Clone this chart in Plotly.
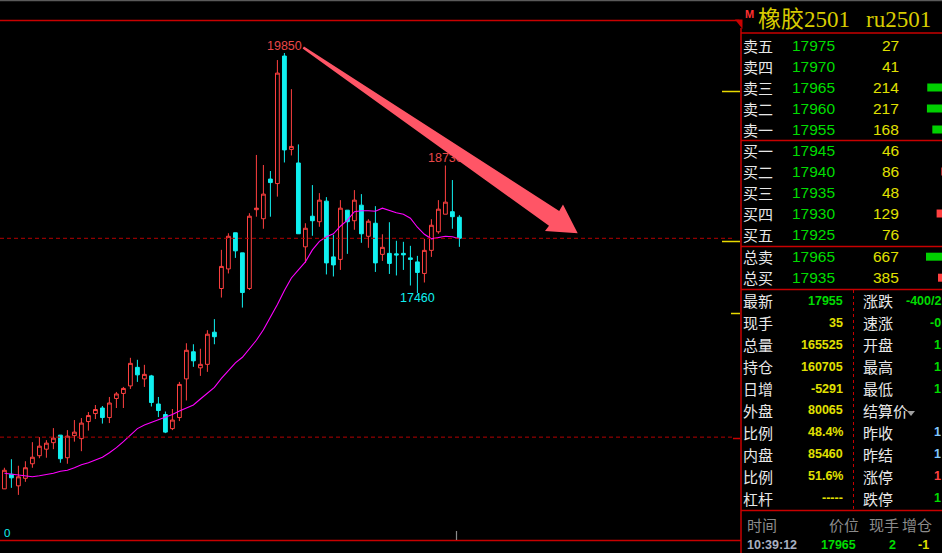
import plotly.graph_objects as go

W, H = 942, 553

# ---------------- data ----------------
opens = [15510, 15655, 15540, 15615, 15760, 15840, 15905, 15970, 16045, 15820,
         16040, 16010, 16180, 16260, 16315, 16220, 16410, 16460, 16535, 16720,
         16605, 16635, 16355, 16250, 16110, 16220, 16605, 16875, 16715, 16750,
         17070, 17505, 17700, 18060, 17860, 17505, 18290, 18200, 18595, 18550,
         19820, 18890, 18755, 17920, 18225, 18170, 18375, 17820, 17795, 18285,
         18180, 18335, 18025, 18155, 17845, 17855, 17850, 17855, 17810, 17770,
         17655, 17885, 18070, 18245, 18270, 18215]
highs = [15720, 15805, 15740, 15785, 15975, 16025, 15995, 16115, 16045, 16095,
         16195, 16215, 16275, 16345, 16335, 16425, 16475, 16525, 16815, 16795,
         16745, 16645, 16425, 16280, 16305, 16575, 16960, 16950, 16905, 17090,
         17200, 17890, 18055, 18060, 17860, 18255, 18835, 18735, 18675, 19780,
         19850, 19490, 18940, 18155, 18535, 18455, 18415, 18040, 18385, 18285,
         18485, 18445, 18195, 18325, 18045, 18165, 17980, 17970, 17930, 17830,
         18000, 18195, 18385, 18730, 18585, 18235]
lows = [15510, 15520, 15450, 15580, 15720, 15815, 15820, 15905, 15770, 15760,
        15980, 15885, 16090, 16205, 16160, 16165, 16315, 16315, 16505, 16575,
        16525, 16330, 16225, 16065, 16095, 16185, 16390, 16725, 16635, 16675,
        16950, 17415, 17655, 17810, 17315, 17490, 18220, 18100, 18220, 18420,
        18760, 18830, 18050, 17760, 18030, 18120, 17645, 17625, 17690, 17850,
        18090, 17960, 17910, 17670, 17780, 17650, 17635, 17690, 17535, 17460,
        17565, 17820, 18050, 18245, 18100, 17920]
closes = [15695, 15620, 15630, 15720, 15825, 15935, 15965, 16015, 15810, 16035,
          16075, 16165, 16240, 16300, 16220, 16365, 16455, 16510, 16760, 16645,
          16650, 16370, 16290, 16075, 16195, 16550, 16890, 16785, 16750, 17050,
          17025, 17725, 18025, 17880, 17465, 18225, 18305, 18445, 18560, 19650,
          18885, 18920, 18050, 18105, 18180, 18385, 17760, 17740, 18305, 18170,
          18385, 18050, 18175, 17760, 17915, 17755, 17840, 17840, 17795, 17665,
          17885, 18135, 18295, 18365, 18220, 18005]
ma_line = [15665, 15655, 15645, 15635, 15630, 15640, 15650, 15665, 15685, 15695,
           15720, 15750, 15770, 15795, 15825, 15870, 15920, 15980, 16050, 16110,
           16145, 16170, 16195, 16225, 16250, 16285, 16315, 16345, 16405, 16465,
           16520, 16610, 16690, 16765, 16820, 16900, 16990, 17095, 17215, 17345,
           17485, 17610, 17690, 17770, 17890, 17975, 18020, 18050, 18125, 18185,
           18270, 18280, 18280, 18275, 18305, 18280, 18260, 18245, 18205, 18115,
           18045, 18000, 18010, 18025, 18020, 18000]
level_prices = [18005, 16025]
peak_index, peak2_index, trough_index = 40, 63, 59

title_name = "橡胶2501"
title_code = "ru2501"

ask_names = ["卖五", "卖四", "卖三", "卖二", "卖一"]
ask_prices = [17975, 17970, 17965, 17960, 17955]
ask_vols = [27, 41, 214, 217, 168]
bid_names = ["买一", "买二", "买三", "买四", "买五"]
bid_prices = [17945, 17940, 17935, 17930, 17925]
bid_vols = [46, 86, 48, 129, 76]
total_names = ["总卖", "总买"]
total_prices = [17965, 17935]
total_vols = [667, 385]

stat_names_l = ["最新", "现手", "总量", "持仓", "日增", "外盘", "比例", "内盘", "比例", "杠杆"]
stat_vals_l = ["17955", "35", "165525", "160705", "-5291", "80065", "48.4%", "85460", "51.6%", "-----"]
stat_names_r = ["涨跌", "速涨", "开盘", "最高", "最低", "结算价", "昨收", "昨结", "涨停", "跌停"]
stat_vals_r = ["-400/2", "-0", "1", "1", "1", "", "1", "1", "1", "1"]

tick_head = ["时间", "价位", "现手", "增仓"]
tick_vals = ["10:39:12", "17965", "2", "-1"]

# ---------------- styles ----------------
RED = "#FF4040"
CYAN = "#10F0F0"
MAGENTA = "#FF00FF"
FRAME = "#C80000"
GREEN = "#00DC00"
YELLOW = "#E0E000"
WHITE = "#E8E8E8"
GRAY = "#8C8C8C"
CJK = "Noto Sans CJK SC"
NUM = "Liberation Sans"

Y_TOP = 20378.0
PT_PER_PX = 9.958


def X(p):
    return p / W


def Y(p):
    return 1 - p / H


idx = list(range(len(opens)))

fig = go.Figure()
fig.add_trace(go.Candlestick(
    x=idx, open=opens, high=highs, low=lows, close=closes,
    increasing=dict(line=dict(color=RED, width=1), fillcolor="#000000"),
    decreasing=dict(line=dict(color=CYAN, width=1), fillcolor=CYAN),
    whiskerwidth=0, hoverinfo="skip"))
fig.add_trace(go.Scatter(x=idx, y=ma_line, mode="lines",
                         line=dict(color=MAGENTA, width=1.1), hoverinfo="skip"))

lab_font = dict(family=NUM, size=12.5)
fig.add_trace(go.Scatter(x=[peak_index, peak2_index], y=[highs[peak_index], highs[peak2_index]],
                         mode="text", text=[str(highs[peak_index]), str(highs[peak2_index])],
                         textposition="top center", textfont=dict(color="#E84848", **lab_font),
                         hoverinfo="skip"))
fig.add_trace(go.Scatter(x=[trough_index], y=[lows[trough_index]], mode="text",
                         text=[str(lows[trough_index])], textposition="bottom center",
                         textfont=dict(color=CYAN, **lab_font), hoverinfo="skip"))

shapes = []


def hline(y, x0, x1, color, width=1.0, dash=None):
    shapes.append(dict(type="line", xref="paper", yref="paper", x0=X(x0), x1=X(x1),
                       y0=Y(y), y1=Y(y), line=dict(color=color, width=width, dash=dash)))


def vline(x, y0, y1, color, width=1.0, dash=None):
    shapes.append(dict(type="line", xref="paper", yref="paper", x0=X(x), x1=X(x),
                       y0=Y(y0), y1=Y(y1), line=dict(color=color, width=width, dash=dash)))


def poly(pts, color, layer="above"):
    d = "M " + " L ".join("%.5f,%.5f" % (X(a), Y(b)) for a, b in pts) + " Z"
    shapes.append(dict(type="path", xref="paper", yref="paper", path=d,
                       fillcolor=color, line=dict(width=0), layer=layer))


# frame
hline(0.5, 0, 942, "#5A5A5A", 1.5)
hline(20.5, 0, 739, FRAME, 1.5)
hline(540.5, 0, 741, FRAME, 1.5)
for lv in level_prices:
    shapes.append(dict(type="line", xref="paper", yref="y", x0=0, x1=X(735),
                       y0=lv, y1=lv, line=dict(color="#B40000", width=1, dash="4px,3px")))
vline(456.5, 531, 540, "#8A8A8A", 1.2)
vline(741, 28, 553, FRAME, 1.5)
poly([(735, 19.5), (742.5, 19.5), (742.5, 29)], FRAME)
# axis ticks at panel edge
hline(91.5, 722, 740, "#E8D800", 1.5)
hline(241.5, 722, 740, "#E8D800", 1.5)
hline(313.5, 731, 740, "#E8D800", 1.5)
hline(438.5, 733, 740, FRAME, 1.5)
# panel separators
for yy in (33, 140.5, 246.5, 289.5, 510.5):
    hline(yy, 741, 942, FRAME, 1.5)
vline(853.5, 290, 510, FRAME, 1, "3px,3px")

# arrow (tapered shaft + head)
poly([(304.0, 46.5), (559.2, 211.0), (563, 204.5), (577.7, 233.3),
      (545, 230.9), (549.0, 225.8), (302.6, 48.4)], "#FF5566")

# depth bars
def bar(x0, yc, col):
    if x0 < 942:
        poly([(x0, yc - 4), (942, yc - 4), (942, yc + 4), (x0, yc + 4)], col)


for i, v in enumerate(ask_vols):
    bar(950.8 - 0.11 * v, 45.5 + 21 * i, "#00D000")
for i, v in enumerate(bid_vols):
    bar(950.8 - 0.11 * v, 150.5 + 21 * i, "#FF4040")
for i, v in enumerate(total_vols):
    bar(954.4 - 0.0426 * v, 256.7 + 21 * i, "#00D000" if i == 0 else "#FF4040")

# settle triangle
poly([(907, 411), (915, 411), (911, 416)], "#A0A0A0")

ann = []


def txt(x, y, s, color, size, family, anchor="left", bold=False):
    ann.append(dict(xref="paper", yref="paper", x=X(x), y=Y(y),
                    text=("<b>%s</b>" % s) if bold else s, showarrow=False,
                    xanchor=anchor, yanchor="middle", borderpad=0,
                    font=dict(color=color, size=size, family=family)))


txt(744, 13.5, "M", "#FF3030", 11, NUM, bold=True)
txt(757, 19, title_name, "#D8CC00", 23, "Liberation Serif, " + CJK)
txt(865, 19, title_code, "#D8CC00", 23, "Liberation Serif, " + CJK)

for i in range(5):
    yy = 45.5 + 21 * i
    txt(742, yy, ask_names[i], WHITE, 15, CJK)
    txt(791, yy, str(ask_prices[i]), GREEN, 15.5, NUM)
    txt(900, yy, str(ask_vols[i]), YELLOW, 15.5, NUM, anchor="right")
for i in range(5):
    yy = 150.5 + 21 * i
    txt(742, yy, bid_names[i], WHITE, 15, CJK)
    txt(791, yy, str(bid_prices[i]), GREEN, 15.5, NUM)
    txt(900, yy, str(bid_vols[i]), YELLOW, 15.5, NUM, anchor="right")
for i in range(2):
    yy = 256.7 + 21 * i
    txt(742, yy, total_names[i], WHITE, 15, CJK)
    txt(791, yy, str(total_prices[i]), GREEN, 15.5, NUM)
    txt(900, yy, str(total_vols[i]), YELLOW, 15.5, NUM, anchor="right")

r_cols = [GREEN, GREEN, GREEN, GREEN, GREEN, GREEN, "#80C8FF", "#80C8FF", RED, GREEN]
for i in range(10):
    yy = 300.7 + 21.95 * i
    txt(742, yy, stat_names_l[i], WHITE, 15, CJK)
    txt(844, yy, stat_vals_l[i], GREEN if i == 0 else YELLOW, 12.5, NUM, anchor="right", bold=True)
    txt(862, yy, stat_names_r[i], WHITE, 15, CJK)
    if stat_vals_r[i]:
        txt(942, yy, stat_vals_r[i], r_cols[i], 12.5, NUM, anchor="right", bold=True)

head_x = [746, 828, 868, 901]
for s, xx in zip(tick_head, head_x):
    txt(xx, 524, s, GRAY, 15, CJK)
txt(746, 545, tick_vals[0], "#A8B0C0", 12.5, NUM, bold=True)
txt(857, 545, tick_vals[1], GREEN, 12.5, NUM, anchor="right", bold=True)
txt(897, 545, tick_vals[2], GREEN, 12.5, NUM, anchor="right", bold=True)
txt(930, 545, tick_vals[3], YELLOW, 12.5, NUM, anchor="right", bold=True)
txt(3, 533, "0", CYAN, 11.5, NUM)

fig.update_layout(
    width=W, height=H, margin=dict(l=0, r=0, t=0, b=0),
    paper_bgcolor="#000000", plot_bgcolor="#000000",
    showlegend=False, hovermode=False, boxgap=0.22,
    xaxis=dict(range=[-4.4 / 7, (W - 4.4) / 7], visible=False, fixedrange=True,
               rangeslider=dict(visible=False)),
    yaxis=dict(range=[Y_TOP - PT_PER_PX * H, Y_TOP], visible=False, fixedrange=True),
    shapes=shapes, annotations=ann)

fig.write_html("out.html", config={"displayModeBar": False},
               post_script="document.body.style.margin='0';document.body.style.overflow='hidden';")
